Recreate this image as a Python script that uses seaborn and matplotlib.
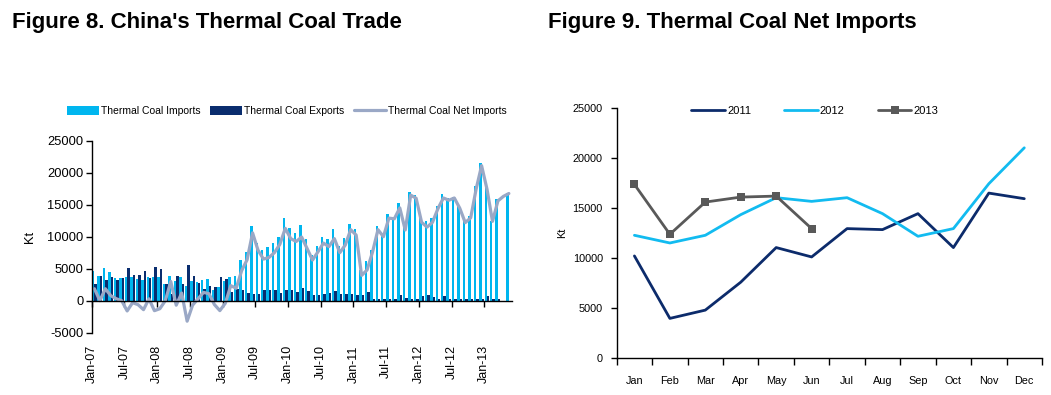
import numpy as np
import pandas as pd
import matplotlib
matplotlib.use("Agg")
import matplotlib.pyplot as plt
import seaborn as sns
from matplotlib import font_manager as fm
from matplotlib.patches import Patch
from matplotlib.lines import Line2D


def has_font(name):
    try:
        fm.findfont(fm.FontProperties(family=name), fallback_to_default=False)
        return True
    except Exception:
        return False


NARROW = "Liberation Sans Narrow" if has_font("Liberation Sans Narrow") else "Liberation Sans"
BASE = "Liberation Sans"

# ---------------- data: Figure 8 (monthly, Jan-07 .. May-13) ----------------
months = list(pd.date_range("2007-01-01", periods=77, freq="MS").strftime("%b-%y"))

imports = [4580, 3800, 5040, 4420, 3480, 3480, 3640, 3640, 3330, 3170, 3640, 3640,
           3640, 2550, 3800, 3020, 3640, 2240, 3020, 3000, 3170, 3330, 1600, 2100,
           3020, 3640, 3800, 6300, 7540, 11650, 9000, 8000, 8370, 9000, 9930, 13000,
           11300, 10560, 11900, 9600, 7200, 8480, 10000, 9570, 11130, 8480, 9720, 12060,
           11130, 4800, 6140, 8000, 11600, 10200, 13470, 13100, 15340, 11600, 17060, 16590,
           12950, 12380, 12950, 14870, 16750, 16120, 16220, 14870, 12430, 13310, 17860, 21500,
           18130, 12500, 15890, np.nan, 16830]
exports = [2550, 3800, 3170, 3640, 3170, 3480, 5040, 3950, 3950, 4580, 3480, 5200,
           4890, 2550, 990, 3800, 2550, 5510, 3800, 2700, 1870, 2250, 2200, 3640,
           3400, 1300, 1870, 1600, 1140, 1040, 1040, 1600, 1600, 1600, 1150, 1600,
           1600, 1300, 1930, 1460, 830, 830, 990, 1140, 1460, 990, 990, 990,
           830, 830, 1300, 310, 310, 310, 310, 310, 830, 500, 300, 300,
           680, 940, 620, 310, 680, 200, 200, 200, 200, 200, 200, 200,
           680, 310, 310, np.nan, np.nan]
net_imports = [1870, 0, 1870, 780, 310, 0, -1600, -310, -620, -1400, 300, -1560,
               -1250, 0, 3000, -700, 1200, -3200, -700, 300, 1300, 1100, -600, -1550,
               -400, 2350, 1950, 4700, 6400, 10600, 7900, 6500, 6750, 7500, 8800, 11300,
               9700, 9250, 9950, 8150, 6350, 7650, 9000, 8450, 9700, 7500, 8700, 11100,
               10250, 3950, 4800, 7600, 11100, 10000, 12900, 12800, 14500, 11050, 16500, 16000,
               12250, 11500, 12250, 14400, 16050, 15700, 16050, 14450, 12200, 12950, 17450, 21100,
               17400, 12400, 15600, 16300, 16750]
tick_labels_left = ["Jan-07", "Jul-07", "Jan-08", "Jul-08", "Jan-09", "Jul-09", "Jan-10",
                    "Jul-10", "Jan-11", "Jul-11", "Jan-12", "Jul-12", "Jan-13"]

# ---------------- data: Figure 9 (net imports by month and year) ----------------
month_names = ["Jan", "Feb", "Mar", "Apr", "May", "Jun", "Jul", "Aug", "Sep", "Oct", "Nov", "Dec"]
net_2011 = [10200, 3940, 4770, 7570, 11040, 10100, 12940, 12840, 14440, 11040, 16500, 15940]
net_2012 = [12270, 11500, 12270, 14340, 16040, 15670, 16040, 14440, 12170, 12940, 17440, 21040]
net_2013 = [17370, 12370, 15600, 16100, 16200, 12940]

# ---------------- style ----------------
C_IMP = "#00b6ef"
C_EXP = "#0a2d6e"
C_NET = "#9aa8c6"
C_2011 = "#0c2b6b"
C_2012 = "#12bbf0"
C_2013 = "#595959"

sns.set_theme(style="white")
plt.rcParams["font.family"] = [BASE, "DejaVu Sans"]
plt.rcParams["axes.linewidth"] = 1.0
for key in ["text.color", "axes.labelcolor", "xtick.color", "ytick.color", "axes.edgecolor"]:
    plt.rcParams[key] = "black"

W, H = 1051, 395
fig = plt.figure(figsize=(W / 100, H / 100), dpi=100)


def fx(px):
    return px / W


def fy(py):
    return 1 - py / H


# ---------------- left chart ----------------
n = len(months)
idx = np.arange(n)
x0, x1 = 91.7, 91.7 + 5.453 * n
y_top, y_bot = 140.7, 332.7
axL = fig.add_axes([fx(x0), fy(y_bot), fx(x1) - fx(x0), fy(y_top) - fy(y_bot)])

df_bars = pd.DataFrame({
    "pos": np.concatenate([idx, idx]),
    "value": np.concatenate([imports, exports]),
    "series": ["Thermal Coal Imports"] * n + ["Thermal Coal Exports"] * n,
})
sns.barplot(data=df_bars, x="pos", y="value", hue="series", native_scale=True,
            hue_order=["Thermal Coal Imports", "Thermal Coal Exports"],
            palette=[C_IMP, C_EXP], dodge=True, width=0.9, gap=0,
            errorbar=None, saturation=1, legend=False, ax=axL, linewidth=0)
sns.lineplot(x=idx, y=net_imports, color=C_NET, linewidth=2.3, ax=axL, legend=False)

axL.set_xlim(-0.5, n - 0.5)
axL.set_ylim(-5000, 25000)
axL.set_yticks(np.arange(-5000, 25001, 5000))
axL.set_yticklabels([str(v) for v in range(-5000, 25001, 5000)], fontsize=9.3)
axL.tick_params(axis="y", direction="out", length=4, width=1, pad=2, left=True)
for s in ["top", "right"]:
    axL.spines[s].set_visible(False)
axL.spines["bottom"].set_position(("data", 0))
tick_pos = [i * 6 - 0.5 for i in range(len(tick_labels_left))]
axL.set_xticks(tick_pos)
axL.tick_params(axis="x", direction="out", length=4, width=1, bottom=True, labelbottom=False)
axL.set_xlabel("")
axL.set_ylabel("Kt", fontsize=9.3, labelpad=8)

sec = axL.secondary_xaxis("bottom")
sec.set_xticks(tick_pos)
sec.set_xticklabels(tick_labels_left, rotation=90, fontsize=9)
sec.tick_params(length=0, pad=9)
sec.spines["bottom"].set_visible(False)

leg_handles = [Patch(facecolor=C_IMP, edgecolor="none"),
               Patch(facecolor=C_EXP, edgecolor="none"),
               Line2D([0], [0], color=C_NET, lw=2.3)]
fig.legend(leg_handles, ["Thermal Coal Imports", "Thermal Coal Exports", "Thermal Coal Net Imports"],
           loc="center", bbox_to_anchor=(fx(287), fy(111)), ncol=3, frameon=False,
           prop={"family": NARROW, "size": 7.5}, handlelength=3.1, handleheight=0.95,
           handletextpad=0.2, columnspacing=0.9, borderaxespad=0)

fig.text(fx(12), fy(27.7), "Figure 8. China's Thermal Coal Trade", fontsize=16,
         fontweight="bold", family=[NARROW, "DejaVu Sans"], va="baseline", ha="left")

# ---------------- right chart ----------------
rx0, rx1 = 616.7, 1042
ry_top, ry_bot = 108.3, 357.7
axR = fig.add_axes([fx(rx0), fy(ry_bot), fx(rx1) - fx(rx0), fy(ry_top) - fy(ry_bot)])

mi = np.arange(12)
sns.lineplot(x=mi, y=net_2011, color=C_2011, linewidth=2.0, ax=axR, legend=False)
sns.lineplot(x=mi, y=net_2012, color=C_2012, linewidth=2.0, ax=axR, legend=False)
sns.lineplot(x=mi[:len(net_2013)], y=net_2013, color=C_2013, linewidth=2.0, marker="s",
             markersize=6, markeredgewidth=0, ax=axR, legend=False)

axR.set_xlim(-0.5, 11.5)
axR.set_ylim(0, 25000)
axR.set_yticks(np.arange(0, 25001, 5000))
axR.set_yticklabels([str(v) for v in range(0, 25001, 5000)], fontsize=7.8)
axR.tick_params(axis="y", direction="out", length=4, width=1, pad=6, left=True)
axR.set_xticks(mi)
axR.set_xticklabels(month_names, fontsize=7.8)
axR.set_xticks(np.arange(-0.5, 12, 1), minor=True)
axR.tick_params(axis="x", which="major", length=0, pad=13)
axR.tick_params(axis="x", which="minor", direction="out", length=5, width=1, bottom=True)
for s in ["top", "right"]:
    axR.spines[s].set_visible(False)
axR.set_ylabel("Kt", fontsize=7.8, labelpad=4)
axR.set_xlabel("")

r_handles = [Line2D([0], [0], color=C_2011, lw=2.0),
             Line2D([0], [0], color=C_2012, lw=2.0),
             Line2D([0], [0], color=C_2013, lw=2.0, marker="s", markersize=6, markeredgewidth=0)]
fig.legend(r_handles, ["2011", "2012", "2013"], loc="center", bbox_to_anchor=(fx(815), fy(110.7)),
           ncol=3, frameon=False, prop={"family": BASE, "size": 8}, handlelength=3.0,
           handletextpad=0.2, columnspacing=3.0, borderaxespad=0)

fig.text(fx(548), fy(27.7), "Figure 9. Thermal Coal Net Imports", fontsize=16,
         fontweight="bold", family=[NARROW, "DejaVu Sans"], va="baseline", ha="left")

fig.savefig("out.png", dpi=100)
